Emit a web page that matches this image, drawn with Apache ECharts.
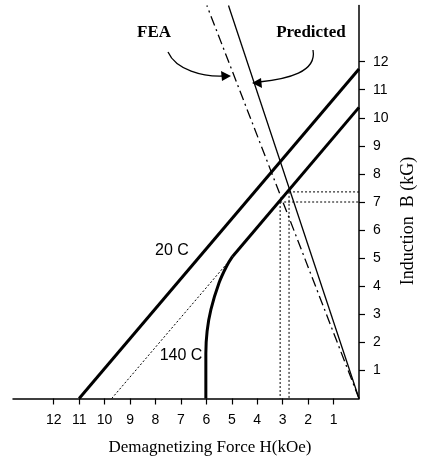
<!DOCTYPE html>
<html>
<head>
<meta charset="utf-8">
<script src="https://cdn.jsdelivr.net/npm/echarts@6/dist/echarts.min.js"></script>
<style>
html,body{margin:0;padding:0;background:#fff;}
#chart{width:423px;height:457px;}
</style>
</head>
<body>
<div id="chart"></div>
<script>
// Tick values (H in kOe shown as magnitude, B in kG)
const xTickValues = [-12,-11,-10,-9,-8,-7,-6,-5,-4,-3,-2,-1];
const yTickValues = [1,2,3,4,5,6,7,8,9,10,11,12];

// Demagnetization curves [H, B]
const line20C = [[-11,0],[0,11.74]];
const line140CStraight = [[-4.97,5.06],[0,10.37]];
const line140CKnee = [[-6.02,0],[-6.02,1.6],[-5.97,2.4],[-5.82,3.17],[-5.5,4.12],[-5.2,4.72],[-4.97,5.06]];
const line140CExtension = [[-9.72,0],[-5.2,4.8]];

// Load lines [H, B]
const predictedLine = [[0,0],[-5.13,14]];
const feaLine = [[0,0],[-5.98,14]];

// Operating point guides [H, B]
const predictedGuideH = [[-2.75,7.36],[0,7.36]];
const predictedGuideV = [[-2.75,7.36],[-2.75,0]];
const feaGuideH = [[-3.1,7.0],[0,7.0]];
const feaGuideV = [[-3.1,7.0],[-3.1,0]];

const chart = echarts.init(document.getElementById('chart'), null, {renderer:'canvas'});

function ls(data, width, type, smooth){
  return {
    type:'line', data:data, symbol:'none', silent:true, smooth:smooth||false,
    lineStyle:{color:'#000', width:width, type:type||'solid', cap:'butt'},
    animation:false, z:3
  };
}

const sansFont = '"Liberation Sans", Arial, Helvetica, sans-serif';
const serifFont = '"Liberation Serif", "Times New Roman", serif';

chart.setOption({
  backgroundColor:'#fff',
  animation:false,
  grid:{left:13, right:64, top:5.5, bottom:58.5, containLabel:false},
  xAxis:{
    type:'value', min:-13.6, max:0,
    axisLine:{show:true, onZero:false, lineStyle:{color:'#000', width:1.5}},
    axisTick:{show:true, customValues:xTickValues, length:6, lineStyle:{color:'#000', width:1.2}},
    axisLabel:{show:true, customValues:xTickValues, margin:15, color:'#000', fontFamily:sansFont, fontSize:14,
      formatter:function(v){return String(Math.abs(v));}},
    splitLine:{show:false}
  },
  yAxis:{
    type:'value', min:0, max:14, position:'right',
    axisLine:{show:true, onZero:false, lineStyle:{color:'#000', width:1.5}},
    axisTick:{show:true, customValues:yTickValues, length:6, lineStyle:{color:'#000', width:1.2}},
    axisLabel:{show:true, customValues:yTickValues, margin:14, color:'#000', fontFamily:sansFont, fontSize:14, align:'left'},
    splitLine:{show:false}
  },
  series:[
    ls(line20C, 3),
    ls(line140CStraight, 3),
    ls(line140CKnee, 3, 'solid', 0.35),
    ls(line140CExtension, 1, [2,2]),
    ls(predictedLine, 1.3),
    ls(feaLine, 1.3, [10,4,2,4]),
    ls(predictedGuideH, 1, [2,2]),
    ls(predictedGuideV, 1, [2,2]),
    ls(feaGuideH, 1, [2,2]),
    ls(feaGuideV, 1, [2,2])
  ],
  graphic:[
    {type:'text', x:154, y:33, style:{text:'FEA', font:'bold 17px '+serifFont, fill:'#000', textAlign:'center', textVerticalAlign:'middle'}},
    {type:'text', x:311, y:33, style:{text:'Predicted', font:'bold 17px '+serifFont, fill:'#000', textAlign:'center', textVerticalAlign:'middle'}},
    {type:'bezierCurve', shape:{x1:168, y1:52, cpx1:176, cpy1:70, cpx2:203, cpy2:77, x2:224, y2:76}, style:{stroke:'#000', lineWidth:1.3, fill:null}},
    {type:'polygon', shape:{points:[[231,76],[221,71],[222,81]]}, style:{fill:'#000'}},
    {type:'bezierCurve', shape:{x1:313, y1:50, cpx1:317, cpy1:72, cpx2:288, cpy2:79, x2:259, y2:82}, style:{stroke:'#000', lineWidth:1.3, fill:null}},
    {type:'polygon', shape:{points:[[252,83],[261,78],[262,88]]}, style:{fill:'#000'}},
    {type:'text', x:172, y:251, style:{text:'20 C', font:'16px '+sansFont, fill:'#000', textAlign:'center', textVerticalAlign:'middle'}},
    {type:'text', x:181, y:356, style:{text:'140 C', font:'16px '+sansFont, fill:'#000', textAlign:'center', textVerticalAlign:'middle'}},
    {type:'text', x:210, y:448, style:{text:'Demagnetizing Force H(kOe)', font:'17px '+serifFont, fill:'#000', textAlign:'center', textVerticalAlign:'middle'}},
    {type:'text', x:408, y:221, rotation:Math.PI/2, style:{text:'Induction  B (kG)', font:'18px '+serifFont, fill:'#000', textAlign:'center', textVerticalAlign:'middle'}}
  ]
});
</script>
</body>
</html>
